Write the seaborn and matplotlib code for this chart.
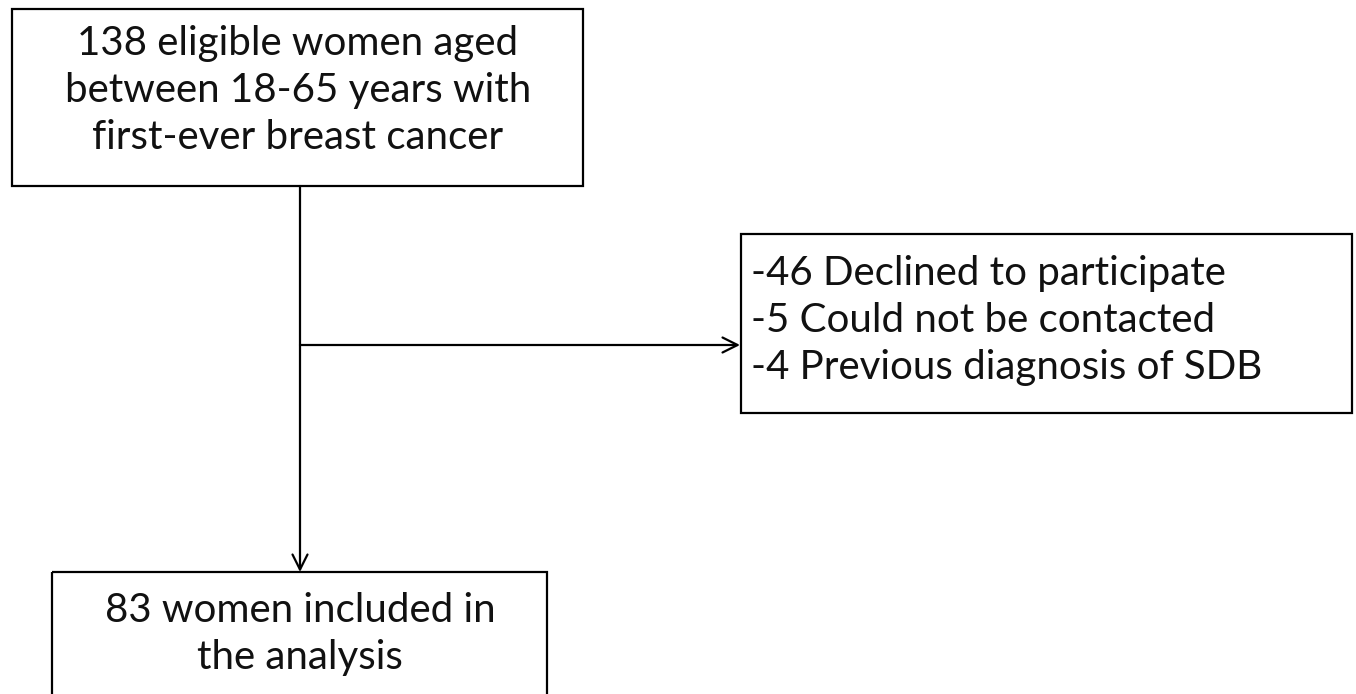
import matplotlib
matplotlib.use("Agg")
import matplotlib.pyplot as plt
import matplotlib.patches as patches
import seaborn as sns

# flowchart content
eligible_n = 138
declined_n = 46
not_contacted_n = 5
prev_sdb_n = 4
included_n = 83

top_lines = [f"{eligible_n} eligible women aged",
             "between 18-65 years with",
             "first-ever breast cancer"]
excl_lines = [f"-{declined_n} Declined to participate",
              f"-{not_contacted_n} Could not be contacted",
              f"-{prev_sdb_n} Previous diagnosis of SDB"]
bottom_lines = [f"{included_n} women included in",
                "the analysis"]

sns.set_theme(style="white")
plt.rcParams['font.family'] = ['Lato', 'DejaVu Sans']

fig = plt.figure(figsize=(13.56, 6.94), dpi=100)
ax = fig.add_axes([0, 0, 1, 1])
ax.set_xlim(0, 1356)
ax.set_ylim(694, 0)
ax.axis('off')

FS = 29

def box(x0, y0, x1, y1):
    ax.add_patch(patches.Rectangle((x0, y0), x1 - x0, y1 - y0, fill=False,
                                   edgecolor='black', linewidth=1.6))

# top box
box(12, 9, 583, 186)
for i, t in enumerate(top_lines):
    ax.text(298, 43 + i * 47, t, ha='center', va='center', fontsize=FS, color='#111111')

# exclusion box
box(741, 234, 1352, 413)
for i, t in enumerate(excl_lines):
    ax.text(751, 273 + i * 47, t, ha='left', va='center', fontsize=FS, color='#111111')

# bottom box (runs off the bottom edge)
box(52, 572, 547, 720)
for i, t in enumerate(bottom_lines):
    ax.text(300, 611 + i * 47, t, ha='center', va='center', fontsize=FS, color='#111111')

arrow = dict(arrowstyle='->,head_length=0.9,head_width=0.45', color='black',
             linewidth=1.6, shrinkA=0, shrinkB=0)
# vertical flow
ax.annotate('', xy=(300, 572), xytext=(300, 186), arrowprops=arrow)
# exclusion branch
ax.annotate('', xy=(740, 345), xytext=(300, 345), arrowprops=arrow)

fig.savefig('out.png', dpi=100)
